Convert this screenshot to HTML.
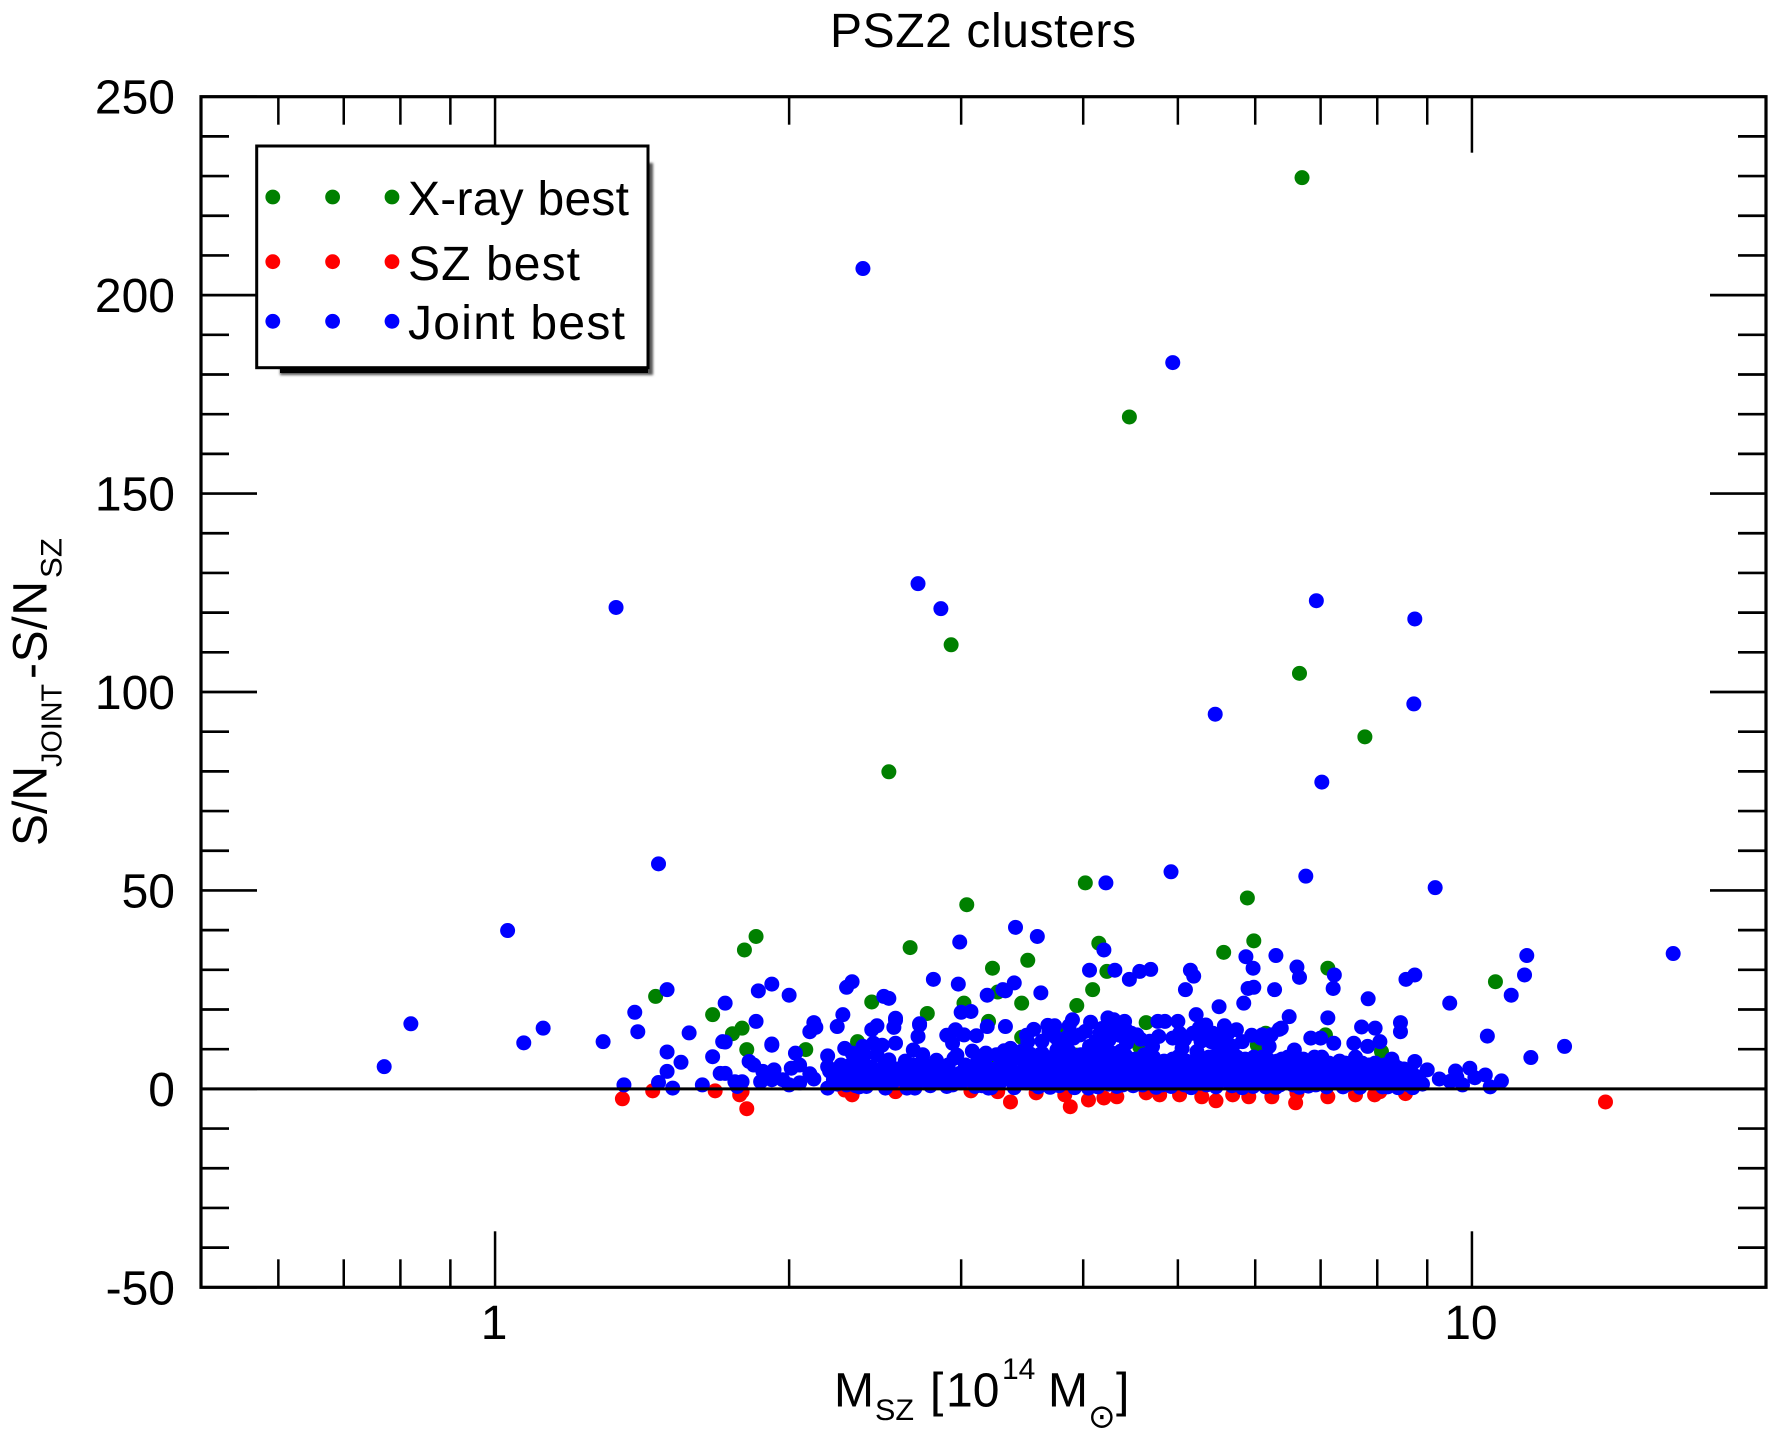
<!DOCTYPE html>
<html lang="en">
<head>
<meta charset="utf-8">
<title>PSZ2 clusters</title>
<style>
html,body{margin:0;padding:0;background:#fff;width:1778px;height:1432px;overflow:hidden}
svg{display:block}
text{font-family:"Liberation Sans",Helvetica,Arial,sans-serif;fill:#000}
</style>
</head>
<body>
<svg id="chart" xmlns="http://www.w3.org/2000/svg" width="1778" height="1432" viewBox="0 0 1778 1432">
  <defs>
    <filter id="legend-blur" x="-5%" y="-5%" width="110%" height="110%"><feGaussianBlur stdDeviation="1.4"/></filter>
  </defs>
  <rect x="0" y="0" width="1778" height="1432" fill="#fff"/>
  <text x="830" y="47" font-size="48" textLength="306" lengthAdjust="spacing">PSZ2 clusters</text>
  <g id="ticks"></g>
  <g id="tick-labels"></g>
  <g id="points"></g>
  <line id="zero-line" stroke="#000" stroke-width="3"/>
  <rect id="frame" fill="none" stroke="#000" stroke-width="3.2"/>

  <g transform="translate(46.7,846) rotate(-90)">
    <text x="0" y="0" font-size="48">S/N</text>
    <text x="79" y="15" font-size="29" textLength="83" lengthAdjust="spacingAndGlyphs">JOINT</text>
    <text x="167" y="0" font-size="48" textLength="98" lengthAdjust="spacing">-S/N</text>
    <text x="268" y="15" font-size="30" textLength="40" lengthAdjust="spacingAndGlyphs">SZ</text>
  </g>

  <g>
    <text x="834" y="1406.7" font-size="48">M</text>
    <text x="875" y="1420" font-size="30" textLength="39" lengthAdjust="spacingAndGlyphs">SZ</text>
    <text x="930" y="1406.7" font-size="48">[</text>
    <text x="946" y="1406.7" font-size="48">10</text>
    <text x="1002" y="1379" font-size="30">14</text>
    <text x="1048" y="1406.7" font-size="48">M</text>
    <text x="1088" y="1427.5" font-size="33" style="font-family:'DejaVu Sans',sans-serif">⊙</text>
    <text x="1116" y="1406.7" font-size="48">]</text>
  </g>

  <g>
    <rect x="280" y="163" width="373" height="212" fill="#555" filter="url(#legend-blur)"/>
    <rect x="280" y="365" width="368" height="8" fill="#000"/>
    <rect x="256.7" y="146" width="391.3" height="221.7" fill="#fff" stroke="#000" stroke-width="3"/>
    <g>
      <circle cx="272.8" cy="197" r="7.4" fill="#008000"/><circle cx="332.6" cy="197" r="7.4" fill="#008000"/><circle cx="392" cy="197" r="7.4" fill="#008000"/>
      <text x="408" y="215" font-size="48" textLength="221" lengthAdjust="spacing">X-ray best</text>
    </g>
    <g>
      <circle cx="272.8" cy="261.7" r="7.4" fill="#ff0000"/><circle cx="332.6" cy="261.7" r="7.4" fill="#ff0000"/><circle cx="392" cy="261.7" r="7.4" fill="#ff0000"/>
      <text x="408" y="280" font-size="48" textLength="172" lengthAdjust="spacing">SZ best</text>
    </g>
    <g>
      <circle cx="272.8" cy="321.3" r="7.4" fill="#0000ff"/><circle cx="332.6" cy="321.3" r="7.4" fill="#0000ff"/><circle cx="392" cy="321.3" r="7.4" fill="#0000ff"/>
      <text x="408" y="339" font-size="48" textLength="217" lengthAdjust="spacing">Joint best</text>
    </g>
  </g>
</svg>

<script>
const xMajorTicks = [1, 10];
const xMinorTicks = [0.6, 0.7, 0.8, 0.9, 2, 3, 4, 5, 6, 7, 8, 9];
const xTickLabels = ["1", "10"];
const yMajorTicks = [-50, 0, 50, 100, 150, 200, 250];
const yMinorTicks = [-40, -30, -20, -10, 10, 20, 30, 40, 60, 70, 80, 90, 110, 120, 130, 140, 160, 170, 180, 190, 210, 220, 230, 240];
const yTickLabels = ["-50", "0", "50", "100", "150", "200", "250"];

const xrayMass = [
  6.7, 4.46, 2.93, 6.66, 7.77, 2.53, 4.02, 3.04, 5.89, 1.85,
  1.8, 2.66, 4.15, 5.98, 5.57, 3.23, 3.51, 4.23, 7.12, 1.46,
  1.67, 1.75, 1.79, 1.81, 2.43, 2.77, 3.27, 3.46, 3.02, 3.2,
  3.94, 4.09, 10.57, 4.64, 5.05, 2.08, 2.35, 3.46, 3.28, 7.08,
  8.08, 3.82, 6.03, 6.15, 4.23, 4.57, 3.94, 2.83, 3.27
];
const xrayExcess = [
  229.6, 169.3, 111.9, 104.7, 88.7, 79.9, 51.9, 46.4, 48.1, 38.4,
  35, 35.6, 36.7, 37.3, 34.4, 30.4, 32.4, 29.6, 30.4, 23.3,
  18.7, 13.9, 15.3, 9.9, 21.9, 19, 24.4, 21.6, 21.6, 17,
  21, 25, 27, 16.7, 11.9, 9.9, 11.9, 13, 7, 13.6,
  9.4, 13.7, 11, 14, 14.8, 10.6, 8.5, 6, 7
];

const szMass = [
  1.35, 1.45, 1.68, 1.78, 1.79, 1.81, 2.28, 2.32, 2.57, 3.07,
  3.27, 3.37, 3.58, 3.83, 3.88, 4.05, 4.2, 4.33, 4.79, 4.64,
  5.02, 5.29, 5.47, 5.91, 5.69, 6.24, 6.6, 6.62, 7.12, 7.6,
  7.95, 8.55, 13.7, 8.05
];
const szExcess = [
  -2.5, -0.5, -0.5, -1.5, -0.7, -5, -0.3, -1.5, -0.7, -0.5,
  -0.7, -3.3, -1, -1.5, -4.5, -2.8, -2.3, -2, -1.5, -1,
  -1.5, -2, -3, -2, -1.5, -2, -3.5, -1, -2, -1.5,
  -1.5, -1.2, -3.3, -0.7
];

const jointMass = [
  2.38, 4.94, 1.33, 2.71, 2.86, 6.93, 8.74, 8.72, 5.46, 7.02,
  1.47, 4.92, 6.76, 4.22, 9.17, 1.03, 3.41, 3.59, 2.99, 4.2,
  16.07, 6.3, 5.87, 11.38, 6.62, 5.15, 4.69, 4.57, 4.06, 4.31,
  5.97, 11.32, 8.74, 6.66, 7.23, 5.19, 4.46, 8.56, 2.81, 2.32,
  1.92, 3.4, 2.98, 2, 1.86, 1.5, 2.29, 5.98, 5.9, 5.09,
  6.28, 7.21, 3.31, 3.19, 2.5, 3.62, 10.97, 7.83, 9.49, 1.72,
  5.51, 5.84, 1.39, 2.27, 3, 6.5, 5.22, 1.85, 4.24, 7.12,
  2.12, 2.57, 2.72, 0.82, 3.74, 8.45, 1.12, 7.96, 7.71, 6.38,
  1.4, 1.58, 2.9, 8.45, 10.37, 1.92, 1.29, 1.07, 12.44, 1.71,
  11.49, 0.77, 1.355, 1.5, 1.5, 1.47, 1.52, 1.55, 1.63, 1.67,
  1.7, 1.72, 1.76, 1.82, 1.72, 1.92, 2.03, 2.05, 2.01, 2.1,
  1.93, 1.88, 1.84, 1.92, 1.97, 1.79, 1.87, 2.19, 2.19, 2.19,
  2.22, 2.28, 2.32, 2.35, 2.31, 2.38, 2.44, 2.43, 2.46, 2.49,
  2.57, 2.56, 2.57, 2.46, 2.39, 2.53, 2.47, 2.38, 2.27, 2.33,
  2.4, 2.52, 2.62, 2.51, 2.64, 2.69, 2.66, 2.72, 2.71, 2.68,
  2.74, 2.68, 2.81, 2.77, 2.9, 2.85, 2.96, 2.94, 2.95, 2.91,
  2.99, 3.12, 3.17, 3.07, 3.02, 3.11, 3.19, 3.09, 3.2, 3.14,
  2.13, 2.1, 2.24, 1.77, 2, 2.12, 2.05, 2.29, 2.36, 2.45,
  3.33, 2.53, 6.35, 5.34, 5.26, 5, 4.85, 4.77, 4.3, 4.33,
  4.41, 4.07, 3.9, 3.87, 3.33, 3.68, 3.69, 3.56, 3.97, 3.91,
  4.48, 4.54, 4.43, 4.16, 5.58, 5.74, 5.43, 5.82, 6.1, 6.23,
  6.84, 7, 7.22, 7.57, 7.82, 8.05, 4.94, 4.78, 4.71, 5.05,
  5.23, 5.41, 5.52, 5.69, 6.2, 6.58, 6.9, 7.6, 3.37, 3.51,
  3.78, 3.87, 4.06, 3.61, 4.2, 4.37, 4.6, 4.25, 4.12, 8.3,
  8.4, 8.5, 8.4, 8.7, 8.76, 8.6, 8.22, 8.05, 8.74, 9,
  9.26, 9.5, 9.62, 9.95, 9.78, 10.07, 10.32, 10.44, 10.72, 9.65,
  3.25, 3.3, 3.35, 3.4, 3.42, 3.47, 3.5, 3.54, 3.58, 3.6,
  3.65, 3.67, 3.72, 3.75, 3.78, 3.82, 3.85, 3.9, 3.92, 3.95,
  4, 4.03, 4.08, 4.1, 4.14, 4.18, 4.22, 4.26, 4.3, 4.33,
  4.38, 4.4, 4.44, 4.5, 4.52, 4.56, 4.6, 4.64, 4.68, 4.72,
  4.75, 4.8, 4.84, 4.88, 4.92, 4.96, 5, 5.04, 5.08, 5.12,
  5.16, 5.2, 5.25, 5.3, 5.35, 5.38, 5.42, 5.47, 5.5, 5.55,
  5.6, 5.64, 5.68, 5.72, 5.77, 5.82, 5.86, 5.9, 5.95, 6,
  6.05, 6.1, 6.15, 6.2, 6.26, 6.32, 6.36, 6.42, 6.48, 6.53,
  6.6, 6.66, 6.72, 6.78, 6.85, 6.92, 6.98, 7.04, 7.1, 7.18,
  7.25, 7.32, 7.38, 7.45, 7.52, 7.6, 7.68, 7.75, 7.85, 7.92,
  8, 8.1, 8.18, 8.28, 8.35, 3.1, 3.15, 3.22, 3.28, 3.45,
  3.55, 3.7, 3.88, 4.05, 4.24, 4.47, 4.66, 4.83, 5.02, 5.22,
  5.45, 5.62, 5.8, 5.97, 6.12, 6.3, 6.45, 6.62, 6.8, 7,
  2.2, 2.24, 2.26, 2.3, 2.34, 2.37, 2.41, 2.43, 2.48, 2.5,
  2.55, 2.58, 2.6, 2.63, 2.67, 2.7, 2.73, 2.76, 2.79, 2.83,
  2.87, 2.88, 2.92, 2.94, 2.97, 3, 3.03, 3.05, 3.08, 3.1,
  3.13, 3.16, 3.18, 3.21, 3.24, 3.26, 3.29, 3.32, 3.34, 3.37,
  3.39, 3.41, 3.44, 3.46, 3.49, 3.52, 3.53, 3.56, 3.59, 3.62,
  3.63, 3.66, 3.69, 3.71, 3.73, 3.76, 3.8, 3.83, 3.86, 3.89,
  3.93, 3.96, 3.98, 4.01, 4.04, 4.06, 4.09, 4.11, 4.13, 4.16,
  4.17, 4.2, 4.23, 4.25, 4.28, 4.32, 4.34, 4.36, 4.39, 4.42,
  4.45, 4.48, 4.51, 4.54, 4.58, 4.62, 4.65, 4.7, 4.74, 4.78,
  4.82, 4.86, 4.9, 4.94, 4.98, 5.01, 5.06, 5.1, 5.14, 5.18,
  5.23, 5.27, 5.33, 5.37, 5.4, 5.44, 5.49, 5.53, 5.57, 5.62,
  5.66, 5.7, 5.75, 5.79, 5.84, 5.88, 5.93, 5.98, 6.03, 6.08,
  6.13, 6.18, 6.24, 6.28, 6.34, 6.39, 6.44, 6.5, 6.56, 6.63,
  6.7, 6.75, 6.82, 6.88, 6.95, 7.02, 7.07, 7.14, 7.2, 7.28,
  7.35, 7.42, 7.48, 7.56, 7.64, 7.72, 7.8, 7.88, 7.96, 8.06,
  8.14, 8.2, 8.26, 8.33, 8.44, 8.52, 8.62, 8.68, 8.82, 8.9,
  3.5, 3.63, 3.75, 3.85, 4.02, 4.18, 4.28, 4.36, 4.42, 4.58,
  4.68, 5.02, 5.08, 5.18, 5.28, 5.38, 5.55, 5.62, 5.95, 6.08
];
const jointExcess = [
  206.7, 183, 121.3, 127.3, 121, 123, 118.4, 97, 94.4, 77.3,
  56.7, 54.7, 53.6, 51.9, 50.7, 39.9, 40.7, 38.4, 37, 35,
  34.1, 33.6, 33.3, 33.6, 30.7, 29.9, 30.1, 29.6, 29.9, 29.9,
  30.4, 28.7, 28.7, 28.1, 28.7, 28.4, 27.6, 27.6, 27.6, 27,
  26.4, 26.7, 26.4, 23.6, 24.7, 25, 25.6, 25.6, 25.3, 25,
  25, 25.3, 25, 23.6, 23.3, 24.2, 23.6, 22.7, 21.6, 21.6,
  20.7, 21.6, 19.3, 18.7, 19.3, 18.2, 18.7, 17, 17.9, 17.9,
  16.7, 17.3, 16.4, 16.4, 15.9, 16.7, 15.3, 15.3, 15.6, 15.3,
  14.4, 14.1, 13.5, 14.4, 13.3, 11, 11.9, 11.6, 10.7, 11.9,
  7.9, 5.6, 1, 9.3, 4.4, 1.6, 0.2, 6.7, 1, 8.1,
  3.9, 3.9, 1.8, 6.9, 11.8, 11.3, 9, 6, 5.2, 3.8,
  4.8, 4.4, 6, 2.3, 2.3, 1.8, 1.8, 8.3, 5.6, 0.2,
  2.3, 10.2, 9, 4.8, 6, 10.7, 11.5, 14.9, 15.9, 11,
  11.5, 15.5, 17.8, 8.6, 8.6, 7.3, 4.8, 2.3, 3.9, 3.9,
  0.6, 3.1, 4.8, 0.2, 0.2, 0.2, 3.9, 16.1, 13.2, 9.8,
  8.6, 6, 5.2, 2.7, 0.6, 3.1, 14.9, 11.5, 7.7, 6,
  3.9, 8.1, 6.9, 19.5, 13.6, 13.4, 15.7, 3.9, 0.2, 3.1,
  15.5, 14.4, 15.7, 0.6, 1, 2.5, 1.5, 1, 0.5, 1.8,
  24.7, 22.8, 15, 16.1, 15.4, 17, 17, 17, 17.4, 16.5,
  17, 16.8, 17.4, 15.9, 15.7, 16, 14.4, 15, 13.6, 12.8,
  14, 13.6, 11.5, 14, 15.9, 14.9, 14, 11.9, 13.6, 13.6,
  12.8, 12.8, 11.5, 11.5, 10.7, 11.9, 12.8, 13.2, 10.7, 10.2,
  9.4, 11.9, 10.7, 10.7, 10.7, 9.8, 8, 8, 10.2, 11.9,
  11.5, 9.4, 10.7, 8.6, 9.8, 9.5, 8, 12.3, 12, 6.5,
  5.3, 3, 0.3, 0.3, 1.8, 1.8, 3.5, 4.8, 6.9, 4.8,
  2.5, 1.9, 4.5, 5.2, 1, 2.8, 3.5, 0.5, 2, 2.9,
  5, 2, 7, 0.3, 4, 8, 1.5, 5.5, 3, 0.5,
  6.5, 2, 8, 4, 0.8, 6, 2.5, 7.5, 0.3, 4.5,
  1.5, 7.5, 3, 5.5, 0.5, 8, 2, 6, 4, 0.6,
  7, 2.5, 5, 0.8, 7.5, 3.5, 1, 6, 2.5, 8,
  0.4, 4.5, 7, 2, 0.6, 5.5, 3, 7.5, 1, 5,
  0.3, 7, 3, 5.5, 1, 8, 3.5, 0.5, 6, 2.5,
  8, 4.5, 0.8, 6.5, 2.5, 0.3, 7.5, 4, 1.5, 6,
  2.8, 8, 0.5, 5, 3, 7, 1, 4.5, 8, 2,
  5.5, 0.4, 7.5, 3, 5, 1, 6.5, 3.5, 0.5, 5,
  2, 7, 0.5, 4, 2, 6, 0.4, 3.5, 6, 1.5,
  4, 0.5, 2, 7.5, 1.6, 6, 0.8, 0.3, 3.5, 2.5,
  7, 0.4, 4, 0.2, 4.5, 3, 4, 2.5, 5.5, 1.5,
  6, 2, 4.5, 0.6, 3.5, 0.4, 6, 3.5, 0.7, 2,
  4.5, 1.2, 6, 2.8, 0.8, 6.8, 3, 5.5, 2.2, 5.6,
  1.5, 5, 2.5, 7, 1.5, 4.5, 2.2, 6, 0.8, 7.2,
  1.8, 5, 3.2, 1, 8.5, 1.5, 6, 2.6, 9.5, 0.6,
  5, 2.2, 9, 4, 1.2, 8.6, 5.5, 9.6, 2.6, 6,
  1.8, 7.8, 3, 9.5, 5.8, 2.8, 8.8, 1.2, 6, 4,
  9, 4.8, 3, 6, 1.8, 9.8, 3, 8, 5.4, 1.5,
  6.2, 2.5, 8.6, 5.5, 3, 7, 1.2, 9, 3.5, 6.4,
  2, 5, 7.5, 1.2, 9, 2.8, 7, 5, 1, 8.4,
  2, 6, 4, 1.8, 5.8, 8.6, 1.8, 5.4, 3, 6.6,
  1, 5.2, 3.4, 7.5, 1.5, 8.2, 4, 7, 3, 4.6,
  6, 1.4, 7.2, 3.4, 5.8, 8.2, 2.8, 4.5, 6.5, 7.6,
  2.2, 4.2, 8, 5.5, 1.8, 6, 3, 8, 4.5, 6,
  1.8, 7.5, 5.5, 1.5, 4, 7.5, 2.5, 5, 1, 7,
  1.8, 5, 7, 2.5, 4, 8, 1.5, 6.5, 3, 5.5,
  3, 6.5, 1.2, 3.5, 4.5, 6.5, 1.8, 4, 6.5, 2.5,
  6, 0.5, 1, 4, 1.8, 5, 1, 4, 3, 1.2,
  13.5, 12, 13, 13, 14.5, 15.2, 14.2, 13.5, 15, 12.5,
  12, 14, 12.5, 14, 12, 13.8, 12.8, 13.8, 13.5, 12.8
];

const SVG_NS = "http://www.w3.org/2000/svg";
const plotLeft = 201, plotRight = 1766, plotTop = 96.7, plotBottom = 1287.3;
const xDomainMin = 0.5, xDomainMax = 20, yDomainMin = -50, yDomainMax = 250;

function xScale(mass) {
  const span = Math.log10(xDomainMax) - Math.log10(xDomainMin);
  return plotLeft + (Math.log10(mass) - Math.log10(xDomainMin)) / span * (plotRight - plotLeft);
}
function yScale(excess) {
  return plotBottom - (excess - yDomainMin) / (yDomainMax - yDomainMin) * (plotBottom - plotTop);
}

const tickLayer = document.getElementById("ticks");
const labelLayer = document.getElementById("tick-labels");
const pointLayer = document.getElementById("points");

function addTick(x1, y1, x2, y2, width, name) {
  const el = document.createElementNS(SVG_NS, "line");
  el.setAttribute("x1", x1);
  el.setAttribute("y1", y1);
  el.setAttribute("x2", x2);
  el.setAttribute("y2", y2);
  el.setAttribute("stroke", "#000");
  el.setAttribute("stroke-width", width);
  
  
  tickLayer.appendChild(el);
}
function addLabel(x, y, anchor, content, name) {
  const el = document.createElementNS(SVG_NS, "text");
  el.setAttribute("x", x);
  el.setAttribute("y", y);
  el.setAttribute("text-anchor", anchor);
  el.setAttribute("font-size", "48");
  el.textContent = content;
  
  
  labelLayer.appendChild(el);
}
function drawSeries(masses, excesses, color, name) {
  masses.forEach(function (mass, i) {
    const el = document.createElementNS(SVG_NS, "circle");
    el.setAttribute("cx", xScale(mass).toFixed(2));
    el.setAttribute("cy", yScale(excesses[i]).toFixed(2));
    el.setAttribute("r", "7.5");
    el.setAttribute("fill", color);
    
    
    pointLayer.appendChild(el);
  });
}

const majorLen = 56, minorLen = 28;
xMajorTicks.forEach(function (v, i) {
  const x = xScale(v);
  addTick(x, plotBottom, x, plotBottom - majorLen, 2.5, "x-major-tick");
  addTick(x, plotTop, x, plotTop + majorLen, 2.5, "x-major-tick-top");
  addLabel(x - 1, 1339, "middle", xTickLabels[i], "x-tick-label");
});
xMinorTicks.forEach(function (v) {
  const x = xScale(v);
  addTick(x, plotBottom, x, plotBottom - minorLen, 2.5, "x-minor-tick");
  addTick(x, plotTop, x, plotTop + minorLen, 2.5, "x-minor-tick-top");
});
yMajorTicks.forEach(function (v, i) {
  const y = yScale(v);
  addTick(plotLeft, y, plotLeft + majorLen, y, 2.7, "y-major-tick");
  addTick(plotRight, y, plotRight - majorLen, y, 2.7, "y-major-tick-right");
  addLabel(175, y + 17, "end", yTickLabels[i], "y-tick-label");
});
yMinorTicks.forEach(function (v) {
  const y = yScale(v);
  addTick(plotLeft, y, plotLeft + minorLen, y, 2.7, "y-minor-tick");
  addTick(plotRight, y, plotRight - minorLen, y, 2.7, "y-minor-tick-right");
});

drawSeries(xrayMass, xrayExcess, "#008000", "xray-best-point");
drawSeries(szMass, szExcess, "#ff0000", "sz-best-point");
drawSeries(jointMass, jointExcess, "#0000ff", "joint-best-point");

const zeroLine = document.getElementById("zero-line");
zeroLine.setAttribute("x1", plotLeft);
zeroLine.setAttribute("x2", plotRight);
zeroLine.setAttribute("y1", yScale(0));
zeroLine.setAttribute("y2", yScale(0));

const frame = document.getElementById("frame");
frame.setAttribute("x", plotLeft);
frame.setAttribute("y", plotTop);
frame.setAttribute("width", plotRight - plotLeft);
frame.setAttribute("height", plotBottom - plotTop);
</script>
</body>
</html>
